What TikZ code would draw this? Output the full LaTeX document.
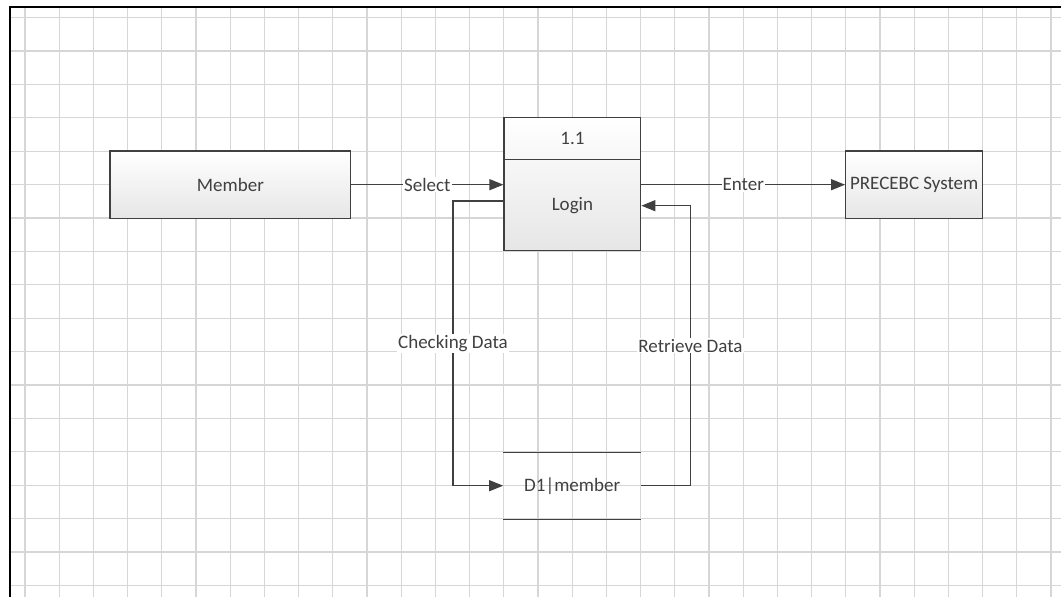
\documentclass[tikz,border=0pt]{standalone}
\usepackage{fontspec}
\setmainfont{Carlito}
\usetikzlibrary{arrows.meta}
\definecolor{ink}{RGB}{64,64,64}
\definecolor{gridc}{RGB}{214,214,214}
\definecolor{boxbot}{RGB}{230,230,230}
\tikzset{
  box/.style={draw=ink, line width=1.3pt, top color=white, bottom color=boxbot, inner sep=0pt, text=ink, font=\fontsize{19}{22}\selectfont},
  txt/.style={text=ink, inner sep=1pt, font=\fontsize{19}{22}\selectfont},
  lbl/.style={fill=white, text=ink, inner sep=1pt, font=\fontsize{19}{22}\selectfont},
  flow/.style={draw=ink, line width=1.3pt, -{Triangle[length=14pt,width=11pt]}},
  gridline/.style={draw=gridc, line width=1.2pt}
}
\begin{document}
\begin{tikzpicture}[x=1pt,y=-1pt]
\useasboundingbox (0,0) rectangle (1061,597);
\fill[white] (0,0) rectangle (1061,597);
% grid
\foreach \k in {0,...,30} { \draw[gridline] ({25+34.2*\k},7) -- ({25+34.2*\k},597); }
\foreach \k in {0,...,17} { \draw[gridline] (9.5,{17.5+33.4*\k}) -- (1061,{17.5+33.4*\k}); }
% frame
\draw[black, line width=2pt] (9.5,597) -- (9.5,7) -- (1061,7);

% nodes
\node[box, minimum width=240.7pt, minimum height=67.3pt] (member) at (230.4,184.7) {Member};
\node[box, minimum width=136.7pt, minimum height=133.4pt] (login) at (572.4,184) {};
\node[txt] (num) at (572.4,138.3) {1.1};
\node[txt] (lname) at (572.4,206) {Login};
\draw[draw=ink, line width=1.3pt] (login.west |- 0,159.3) -- (login.east |- 0,159.3);
\node[box, minimum width=137pt, minimum height=67.3pt] (sys) at (914.2,184.7) {PRECEBC System};
\node[txt, minimum width=137.7pt, minimum height=66.7pt] (store) at (572.2,485.7) {D1|member};
\draw[draw=ink, line width=1.3pt] (store.north west) -- (store.north east);
\draw[draw=ink, line width=1.3pt] (store.south west) -- (store.south east);

% connector bends
\coordinate (c1) at (453,201);
\coordinate (c2) at (453,485.7);
\coordinate (r1) at (690.5,485.7);
\coordinate (r2) at (690.5,205.7);

% connectors
\draw[flow] (member.east) -- node[lbl]{Select} (login.west |- member.east);
\draw[flow] (login.east |- sys.west) -- node[lbl]{Enter} (sys.west);
\draw[flow] (login.west |- c1) -- (c1) -- node[lbl]{Checking Data} (c2) -- (store.west);
\draw[flow] (store.east) -- (r1) -- node[lbl]{Retrieve Data} (r2) -- (login.east |- r2);
\end{tikzpicture}
\end{document}
